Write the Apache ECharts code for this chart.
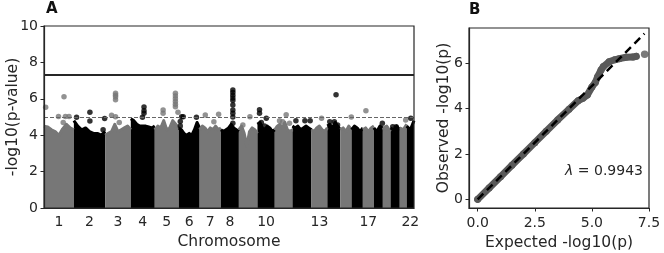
<!DOCTYPE html>
<html>
<head>
<meta charset="utf-8">
<script src="https://cdn.jsdelivr.net/npm/echarts@6/dist/echarts.min.js"></script>
<style>
html,body{margin:0;padding:0;background:#fff;}
#c{width:664px;height:253px;}
</style>
</head>
<body>
<div id="c"></div>
<script>
// ---------------- DATA ----------------
// chromosome spans (Mb covered by SNPs)
const chrNames = ['1','2','3','4','5','6','7','8','9','10','11','12','13','14','15','16','17','18','19','20','21','22'];
const chrLen = [233,244,200,187,187,163,166,140,145,135,138,148,124,101,88,88,86,70,60,72,54,57];
// upper envelope of the dense SNP cloud per chromosome (-log10 p)
const chrEnvelope = [
  [4.5,4.45,4.3,4.2,4.0,4.35,4.6,4.4,4.3],
  [4.8,4.5,4.3,4.4,4.2,4.1,4.1,4.0,4.2],
  [4.0,4.1,4.2,4.6,4.2,4.3,4.4,4.5,4.3],
  [4.9,4.8,4.6,4.5,4.5,4.5,4.45,4.4,4.5],
  [4.3,4.5,4.4,4.8,4.3,4.4,4.8,4.6,4.4],
  [4.4,4.3,4.1,4.0,4.1,4.0,4.3,4.7,4.4],
  [4.3,4.5,4.4,4.2,4.4,4.3,4.5,4.3,4.4],
  [4.3,4.2,4.3,4.4,4.6,4.4,4.3,4.2],
  [4.3,4.5,4.1,3.4,4.2,4.4,4.3,4.1],
  [4.6,4.7,4.4,4.3,4.5,4.4,4.2,4.3],
  [4.3,4.5,4.6,4.4,4.7,4.3,4.2,4.3],
  [4.5,4.4,4.5,4.3,4.4,4.5,4.4,4.3],
  [4.3,4.2,4.4,4.5,4.3,4.2,4.4],
  [4.5,4.6,4.4,4.7,4.5,4.3],
  [4.3,4.4,4.2,4.5,4.3],
  [4.3,4.5,4.4,4.2,4.4],
  [4.3,4.4,4.2,4.4,4.5],
  [4.4,4.2,4.5,4.4],
  [4.3,4.5,4.2],
  [4.4,4.3,4.5,4.3],
  [4.4,4.3,4.6],
  [4.5,4.3,4.8]
];
// individual SNPs standing above the cloud: [chromosome index (0-based), position Mb, -log10 p]
const oddChrDots = [ // grey chromosomes (1,3,5,...)
  [0,13,5.53],[0,156,6.11],[0,113,5.03],[0,167,5.03],[0,195,5.03],[0,150,4.7],
  [2,81,6.3],[2,81,6.2],[2,81,6.1],[2,81,5.95],[2,81,5.02],[2,50,5.1],[2,110,4.7],
  [4,161,6.3],[4,161,6.15],[4,161,6.0],[4,161,5.85],[4,161,5.7],[4,161,5.56],[4,65,5.38],[4,65,5.2],[4,181,5.26],
  [6,44,5.11],[6,148,5.15],[6,111,4.74],
  [8,31,4.56],[8,86,5.02],
  [10,89,5.13],[10,37,4.8],[10,62,4.74],[10,115,4.65],
  [12,79,4.93],
  [14,86,5.0],
  [16,24,5.34],
  [18,20,4.4],
  [20,46,4.83]
];
const evenChrDots = [ // black chromosomes (2,4,6,...)
  [1,21,4.98],[1,125,5.26],[1,125,4.78],[1,240,4.92],[1,228,4.3],
  [3,103,5.55],[3,103,5.35],[3,103,5.2],[3,91,4.98],
  [5,23,5.02],[5,35,5.02],[5,12,4.75],[5,12,4.5],[5,138,4.98],
  [7,93,6.48],[7,93,6.35],[7,93,6.2],[7,93,6.05],[7,93,5.9],[7,93,5.66],[7,93,5.38],[7,93,5.2],[7,93,5.0],[7,93,4.65],
  [9,16,5.4],[9,16,5.2],[9,69,4.93],[9,30,4.7],[9,55,4.5],
  [11,27,4.79],[11,97,4.79],[11,138,4.79],
  [13,68,6.22],[13,19,4.74],[13,55,4.74],[13,80,4.56],
  [17,66,4.65],
  [19,17,4.47],[19,44,4.47],
  [21,32,4.93]
];
const chrTickLabels = ['1','2','3','4','5','6','7','8','10','13','17','22'];
const genomeWideLine = 7.3;
const suggestiveLine = 5;
const manhattanYTicks = [0,2,4,6,8,10];

// QQ plot
const qqExpected = [0,0.5,1,1.5,2,2.5,3,3.5,4,4.4,4.6,4.8,5.0,5.15,5.25,5.4,5.5,5.75,6.0,6.2,6.5,6.8,6.94];
const qqObserved = [0,0.5,1,1.5,2,2.5,3,3.5,3.97,4.35,4.45,4.6,4.95,5.15,5.4,5.7,5.85,6.06,6.15,6.2,6.26,6.27,6.3];
const qqOutlier = [[7.31,6.39]];
const qqRefLine = [[0,0],[7.3,7.3]];
const qqXTicks = [0,2.5,5,7.5];
const qqYTicks = [0,2,4,6];
const lambdaValue = '0.9943';

// ---------------- CHART ----------------
const TXT = '#262626';
const GREY = '#777777';
const BLACK = '#000000';
const FONT = 'DejaVu Sans';

const offsets = [];
let acc = 0;
chrLen.forEach(l => { offsets.push(acc); acc += l; });
const total = acc;
const centers = chrLen.map((l,i) => offsets[i] + l/2);
const labelValues = [], labelMap = {};
chrTickLabels.forEach(t => {
  const i = chrNames.indexOf(t);
  labelValues.push(centers[i]);
  labelMap[centers[i].toFixed(3)] = t;
});

const series = [];
chrEnvelope.forEach((env, i) => {
  const n = env.length;
  const col = (i % 2 === 0) ? GREY : BLACK;
  series.push({
    type: 'line', xAxisIndex: 0, yAxisIndex: 0,
    data: env.map((v, j) => [offsets[i] + chrLen[i] * j / (n - 1), v]),
    symbol: 'none', silent: true, animation: false, z: 2,
    lineStyle: { color: col, width: 3, join: 'round' },
    areaStyle: { color: col, opacity: 1 }
  });
});
const toXY = d => [offsets[d[0]] + d[1], d[2]];
series.push({
  type: 'scatter', xAxisIndex: 0, yAxisIndex: 0, silent: true, animation: false, z: 3,
  data: oddChrDots.map(toXY), symbolSize: 5.5, itemStyle: { color: GREY }
});
series.push({
  type: 'scatter', xAxisIndex: 0, yAxisIndex: 0, silent: true, animation: false, z: 3,
  data: evenChrDots.map(toXY), symbolSize: 5.5, itemStyle: { color: BLACK },
  markLine: {
    symbol: 'none', silent: true, animation: false, label: { show: false },
    data: [
      { yAxis: genomeWideLine, lineStyle: { color: TXT, width: 1.8, type: 'solid' } },
      { yAxis: suggestiveLine, lineStyle: { color: '#666', width: 1, type: [4, 2] } }
    ]
  }
});
// QQ
series.push({
  type: 'line', xAxisIndex: 1, yAxisIndex: 1, silent: true, animation: false, z: 2,
  data: qqExpected.map((x, i) => [x, qqObserved[i]]),
  symbol: 'circle', symbolSize: 7, showSymbol: true,
  itemStyle: { color: '#595959' },
  lineStyle: { color: '#595959', width: 7, cap: 'round', join: 'round' }
});
series.push({
  type: 'scatter', xAxisIndex: 1, yAxisIndex: 1, silent: true, animation: false, z: 2,
  data: qqOutlier, symbolSize: 7.5, itemStyle: { color: '#595959' }
});
series.push({
  type: 'line', xAxisIndex: 1, yAxisIndex: 1, silent: true, animation: false, z: 3,
  data: qqRefLine, symbol: 'none',
  lineStyle: { color: '#000', width: 2.5, type: [8, 5] }
});

const axisCommon = {
  z: 10,
  axisLine: { show: true, onZero: false, lineStyle: { color: TXT, width: 1.2 } },
  splitLine: { show: false },
  nameLocation: 'middle',
  nameMoveOverlap: false,
  nameTextStyle: { fontSize: 15.5, color: TXT, fontFamily: FONT }
};

const option = {
  animation: false,
  backgroundColor: '#fff',
  textStyle: { fontFamily: FONT },
  grid: [
    { left: 44, right: 250, top: 26, bottom: 45, outerBoundsMode: 'none', containLabel: false, show: true, borderColor: TXT, borderWidth: 1.2, backgroundColor: 'transparent', z: 9 },
    { left: 469, right: 15, top: 28, bottom: 45, outerBoundsMode: 'none', containLabel: false, show: true, borderColor: TXT, borderWidth: 1.2, backgroundColor: 'transparent', z: 9 }
  ],
  xAxis: [
    Object.assign({}, axisCommon, {
      gridIndex: 0, type: 'value', min: 0, max: total,
      axisTick: { show: false },
      axisLabel: {
        customValues: labelValues, fontSize: 14, color: TXT, margin: 7, fontFamily: FONT,
        formatter: v => labelMap[Number(v).toFixed(3)] || ''
      },
      name: 'Chromosome', nameGap: 26
    }),
    Object.assign({}, axisCommon, {
      gridIndex: 1, type: 'value', min: -0.38, max: 7.5,
      axisTick: { show: true, customValues: qqXTicks, length: 3.5, lineStyle: { color: TXT } },
      axisLabel: {
        customValues: qqXTicks, fontSize: 14, color: TXT, margin: 8, fontFamily: FONT,
        formatter: v => Number(v).toFixed(1)
      },
      name: 'Expected -log10(p)', nameGap: 27
    })
  ],
  yAxis: [
    Object.assign({}, axisCommon, {
      gridIndex: 0, type: 'value', min: 0, max: 10,
      axisTick: { show: true, customValues: manhattanYTicks, length: 3.5, lineStyle: { color: TXT } },
      axisLabel: { customValues: manhattanYTicks, fontSize: 14, color: TXT, margin: 6, fontFamily: FONT },
      name: '-log10(p-value)', nameGap: 23
    }),
    Object.assign({}, axisCommon, {
      gridIndex: 1, type: 'value', min: -0.38, max: 7.55,
      axisTick: { show: true, customValues: qqYTicks, length: 3.5, lineStyle: { color: TXT } },
      axisLabel: { customValues: qqYTicks, fontSize: 14, color: TXT, margin: 6, fontFamily: FONT },
      name: 'Observed -log10(p)', nameGap: 17
    })
  ],
  graphic: [
    { type: 'text', left: 46, top: 2, style: { text: 'A', font: 'bold 15px "DejaVu Sans"', fill: '#111' } },
    { type: 'text', left: 469, top: 3, style: { text: 'B', font: 'bold 15px "DejaVu Sans"', fill: '#111' } },
    { type: 'text', right: 21, top: 164, style: {
        text: '{i|λ} = ' + lambdaValue,
        rich: { i: { fontStyle: 'italic', fontSize: 14, fontFamily: FONT, fill: TXT } },
        font: '14px "DejaVu Sans"', fill: TXT } }
  ],
  series: series
};

const chart = echarts.init(document.getElementById('c'), null, { renderer: 'canvas' });
chart.setOption(option);
</script>
</body>
</html>
